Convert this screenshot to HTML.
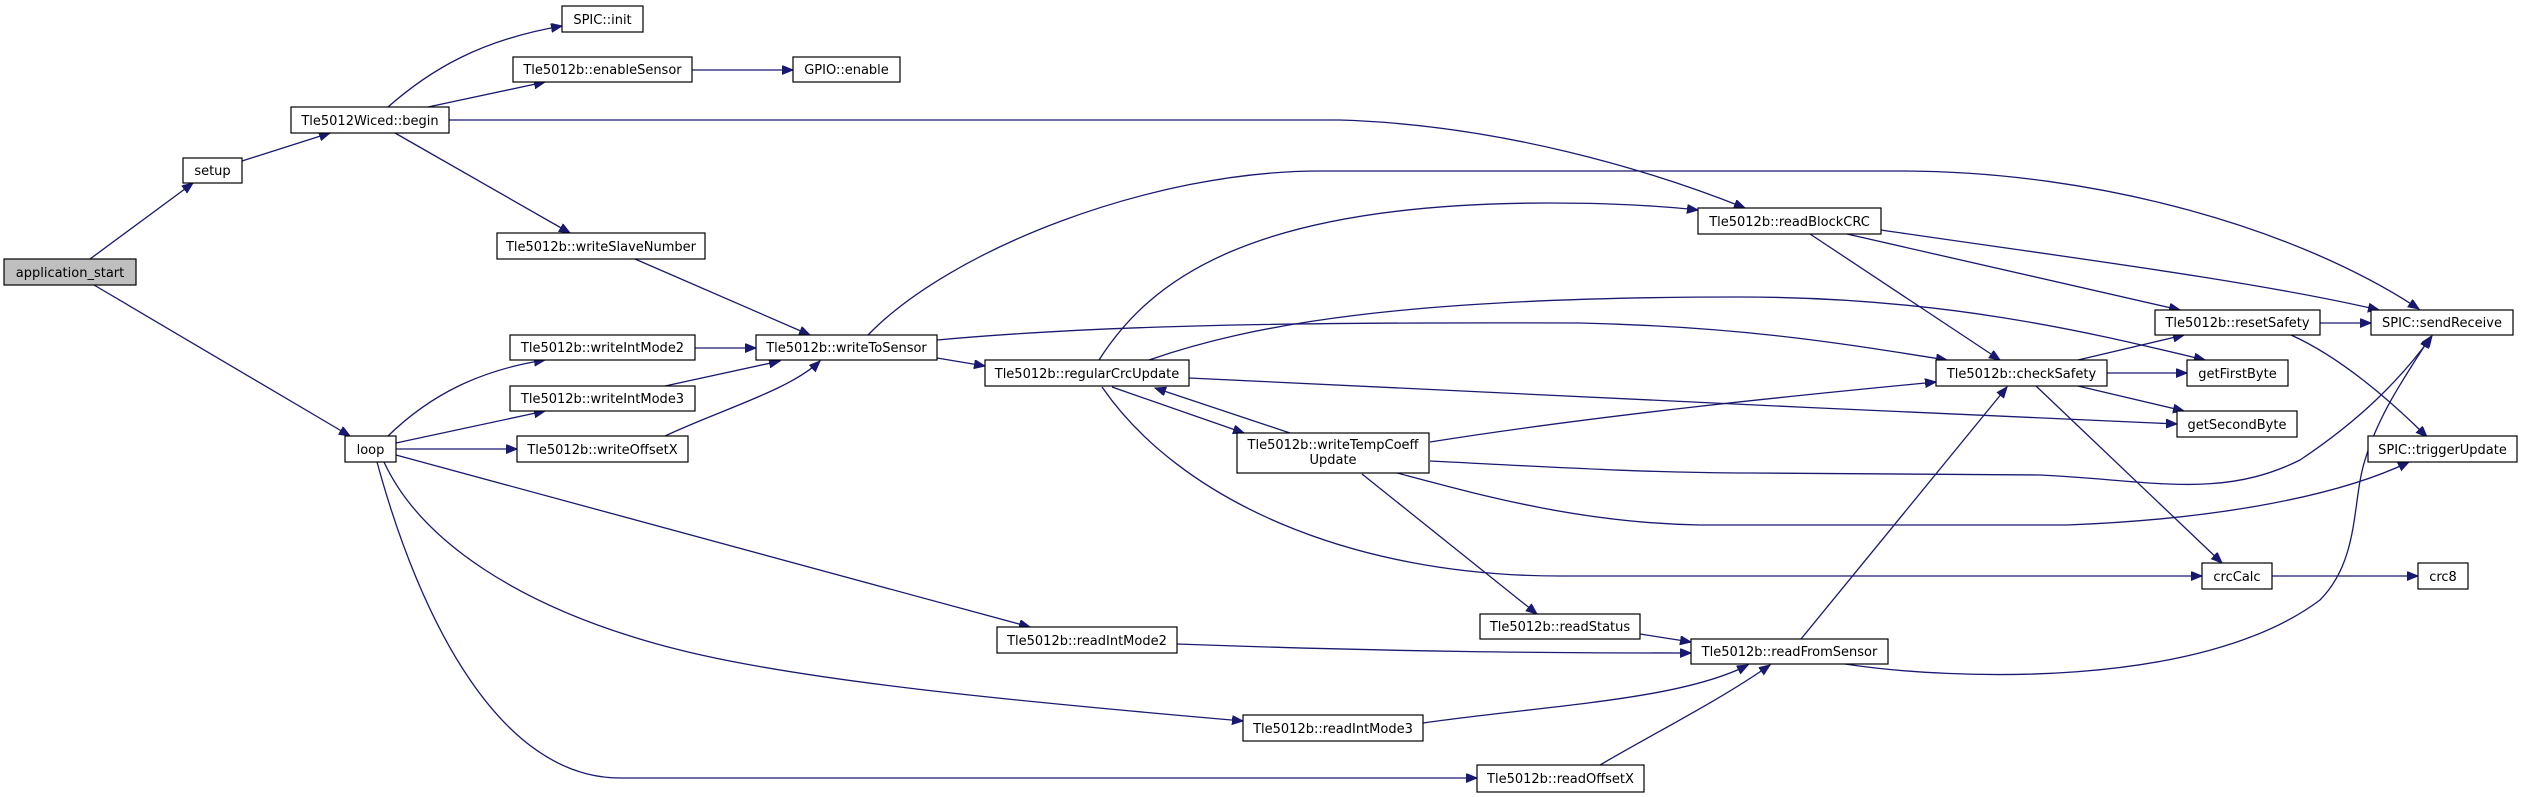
<!DOCTYPE html>
<html><head><meta charset="utf-8"><style>
html,body{margin:0;padding:0;background:#fff;}
svg{display:block;}
text{font-family:"DejaVu Sans","Liberation Sans",sans-serif;font-size:13px;fill:#000;text-anchor:middle;}
.n{fill:#fff;stroke:#000;stroke-width:1.2;}
.e{fill:none;stroke:#191970;stroke-width:1.3;marker-end:url(#a);}
</style></head><body>
<svg width="2523" height="797" viewBox="0 0 2523 797" xmlns="http://www.w3.org/2000/svg">
<defs><marker id="a" markerUnits="userSpaceOnUse" markerWidth="12" markerHeight="10" refX="11" refY="4.5" orient="auto"><path d="M0,0 L11,4.5 L0,9 z" fill="#191970" stroke="#191970"/></marker></defs>

<path class="e" d="M90,259 L193,183"/>
<path class="e" d="M94,285 L350,436"/>
<path class="e" d="M242,161 L330,133"/>
<path class="e" d="M388,107 C430,70 480,40 562,26"/>
<path class="e" d="M428,107 L545,82"/>
<path class="e" d="M449,120 L1340,120 C1500,125 1650,170 1745,208"/>
<path class="e" d="M395,133 L570,233"/>
<path class="e" d="M692,70 L793,70"/>
<path class="e" d="M635,259 L810,335"/>
<path class="e" d="M695,348 L756,348"/>
<path class="e" d="M665,386 L780,361"/>
<path class="e" d="M665,436 C720,410 790,390 820,361"/>
<path class="e" d="M388,436 C430,395 480,370 545,360"/>
<path class="e" d="M396,443 L545,411"/>
<path class="e" d="M396,449 L517,449"/>
<path class="e" d="M396,455 L1030,627"/>
<path class="e" d="M384,462 C420,540 520,610 680,650 C800,680 1000,700 1243,721"/>
<path class="e" d="M377,462 C420,620 500,778 620,778 L1477,778"/>
<path class="e" d="M868,335 C950,250 1150,171 1320,171 L1900,171 C2100,171 2300,230 2419,309"/>
<path class="e" d="M937,358 L985,366"/>
<path class="e" d="M937,340 C1100,325 1300,322 1580,323 C1750,327 1850,345 1947,360"/>
<path class="e" d="M1149,360 C1250,325 1400,297 1740,297 C1950,297 2100,335 2205,360"/>
<path class="e" d="M1099,360 C1150,280 1250,203 1550,203 C1620,203 1670,207 1698,210"/>
<path class="e" d="M1189,378 C1500,393 1850,410 2177,424"/>
<path class="e" d="M1112,387 L1244,433"/>
<path class="e" d="M1290,433 L1155,388"/>
<path class="e" d="M1102,387 C1180,500 1350,576 1560,576 L2202,576"/>
<path class="e" d="M1430,442 C1600,415 1800,395 1936,382"/>
<path class="e" d="M1430,461 C1550,467 1650,473 1750,473 L2040,475 C2150,480 2220,500 2300,460 C2360,420 2400,380 2432,336"/>
<path class="e" d="M1397,473 C1480,495 1580,523 1700,525 L2067,525 C2200,520 2330,500 2409,462"/>
<path class="e" d="M1362,474 L1537,614"/>
<path class="e" d="M1810,234 L2000,360"/>
<path class="e" d="M1847,234 L2180,310"/>
<path class="e" d="M1881,230 C2050,255 2250,280 2379,310"/>
<path class="e" d="M2078,360 L2184,335"/>
<path class="e" d="M2107,373 L2187,373"/>
<path class="e" d="M2078,386 L2184,411"/>
<path class="e" d="M2036,386 L2222,563"/>
<path class="e" d="M2320,323 L2371,323"/>
<path class="e" d="M2291,335 C2340,357 2390,400 2427,437"/>
<path class="e" d="M2272,576 L2418,576"/>
<path class="e" d="M1801,639 L2007,387"/>
<path class="e" d="M1845,664 C1950,680 2200,690 2320,600 C2360,560 2352,500 2365,460 C2380,410 2410,370 2430,337"/>
<path class="e" d="M1640,634 L1691,642"/>
<path class="e" d="M1177,644 C1400,652 1550,653 1691,653"/>
<path class="e" d="M1423,723 C1550,705 1680,700 1748,665"/>
<path class="e" d="M1600,765 C1660,730 1720,700 1770,665"/>

<rect x="4" y="259" width="132" height="26" fill="#bfbfbf" stroke="#000" stroke-width="1.2"/><text x="70" y="277">application_start</text>
<rect class="n" x="183" y="158" width="59" height="25"/><text x="212.5" y="175">setup</text>
<rect class="n" x="291" y="107" width="158" height="26"/><text x="370" y="125">Tle5012Wiced::begin</text>
<rect class="n" x="562" y="6" width="81" height="26"/><text x="602.5" y="24">SPIC::init</text>
<rect class="n" x="513" y="57" width="179" height="25"/><text x="602.5" y="74">Tle5012b::enableSensor</text>
<rect class="n" x="793" y="57" width="107" height="25"/><text x="846.5" y="74">GPIO::enable</text>
<rect class="n" x="497" y="233" width="208" height="26"/><text x="601" y="251">Tle5012b::writeSlaveNumber</text>
<rect class="n" x="510" y="335" width="185" height="25"/><text x="602.5" y="352">Tle5012b::writeIntMode2</text>
<rect class="n" x="510" y="386" width="185" height="25"/><text x="602.5" y="403">Tle5012b::writeIntMode3</text>
<rect class="n" x="517" y="436" width="171" height="26"/><text x="602.5" y="454">Tle5012b::writeOffsetX</text>
<rect class="n" x="345" y="436" width="51" height="26"/><text x="370.5" y="454">loop</text>
<rect class="n" x="756" y="335" width="181" height="25"/><text x="846.5" y="352">Tle5012b::writeToSensor</text>
<rect class="n" x="985" y="360" width="204" height="26"/><text x="1087" y="378">Tle5012b::regularCrcUpdate</text>
<rect class="n" x="1237" y="433" width="192" height="40"/><text x="1333" y="449">Tle5012b::writeTempCoeff</text><text x="1333" y="464">Update</text>
<rect class="n" x="1698" y="208" width="183" height="26"/><text x="1789.5" y="226">Tle5012b::readBlockCRC</text>
<rect class="n" x="1936" y="360" width="171" height="26"/><text x="2021.5" y="378">Tle5012b::checkSafety</text>
<rect class="n" x="2155" y="310" width="165" height="25"/><text x="2237.5" y="327">Tle5012b::resetSafety</text>
<rect class="n" x="2371" y="310" width="142" height="25"/><text x="2442" y="327">SPIC::sendReceive</text>
<rect class="n" x="2187" y="360" width="101" height="26"/><text x="2237.5" y="378">getFirstByte</text>
<rect class="n" x="2177" y="411" width="120" height="26"/><text x="2237" y="429">getSecondByte</text>
<rect class="n" x="2368" y="436" width="149" height="26"/><text x="2442.5" y="454">SPIC::triggerUpdate</text>
<rect class="n" x="2202" y="563" width="70" height="26"/><text x="2237" y="581">crcCalc</text>
<rect class="n" x="2418" y="563" width="50" height="26"/><text x="2443" y="581">crc8</text>
<rect class="n" x="997" y="627" width="180" height="26"/><text x="1087" y="645">Tle5012b::readIntMode2</text>
<rect class="n" x="1243" y="715" width="180" height="26"/><text x="1333" y="733">Tle5012b::readIntMode3</text>
<rect class="n" x="1477" y="765" width="167" height="27"/><text x="1560.5" y="783">Tle5012b::readOffsetX</text>
<rect class="n" x="1480" y="614" width="160" height="25"/><text x="1560" y="631">Tle5012b::readStatus</text>
<rect class="n" x="1691" y="639" width="197" height="25"/><text x="1789.5" y="656">Tle5012b::readFromSensor</text>
</svg>
</body></html>
